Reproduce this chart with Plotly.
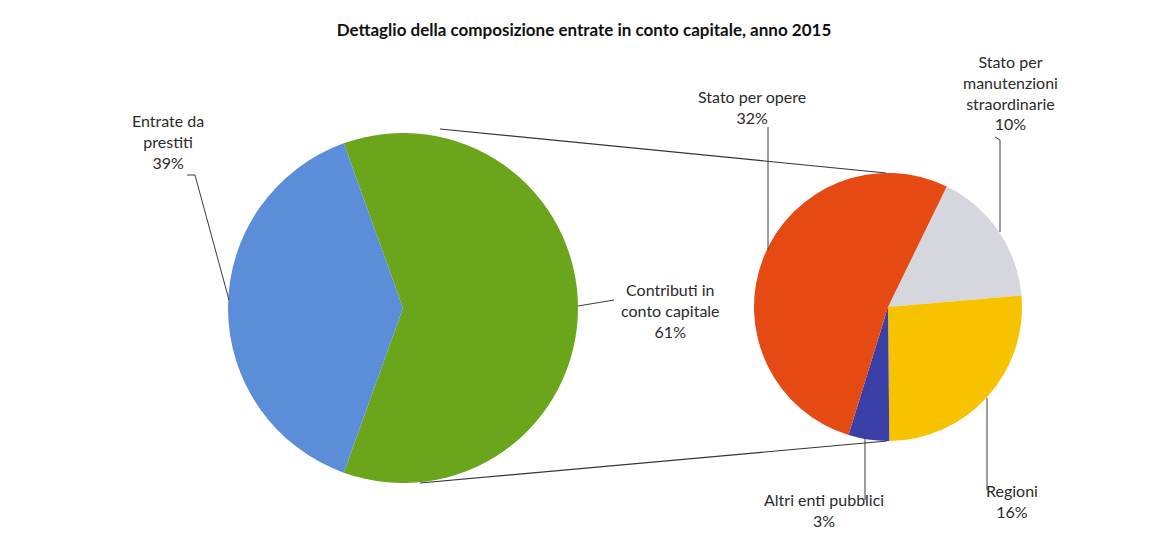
import plotly.graph_objects as go

W, H = 1168, 538

title = "Dettaglio della composizione entrate in conto capitale, anno 2015"

main_labels = ["Contributi in conto capitale", "Entrate da prestiti"]
main_values = [61, 39]
main_colors = ["#6aa51c", "#5b8dd9"]

sub_labels = ["Stato per manutenzioni straordinarie", "Regioni", "Altri enti pubblici", "Stato per opere"]
sub_values = [10, 16, 3, 32]
sub_colors = ["#d6d6de", "#f7c300", "#3b3fa8", "#e54a14"]

# label texts (line-broken as in the reference)
main_text = ["Contributi in<br>conto capitale", "Entrate da<br>prestiti"]
sub_text = ["Stato per<br>manutenzioni<br>straordinarie", "Regioni", "Altri enti pubblici", "Stato per opere"]


def px(x, y):
    return x / W, 1 - y / H


# geometry (pixels)
L_CX, L_CY, L_R = 403, 308, 175
R_CX, R_CY, R_R = 888, 307, 134

fig = go.Figure()

lx0, ly1 = px(L_CX - L_R, L_CY - L_R)
lx1, ly0 = px(L_CX + L_R, L_CY + L_R)
fig.add_trace(go.Pie(
    labels=main_labels, values=main_values, sort=False, direction="clockwise",
    rotation=-19.8,
    marker=dict(colors=main_colors, line=dict(width=0)),
    textinfo="none", hoverinfo="label+percent", showlegend=False,
    domain=dict(x=[lx0, lx1], y=[ly0, ly1]),
))

rx0, ry1 = px(R_CX - R_R, R_CY - R_R)
rx1, ry0 = px(R_CX + R_R, R_CY + R_R)
fig.add_trace(go.Pie(
    labels=sub_labels, values=sub_values, sort=False, direction="clockwise",
    rotation=26,
    marker=dict(colors=sub_colors, line=dict(width=0)),
    textinfo="none", hoverinfo="label+value", showlegend=False,
    domain=dict(x=[rx0, rx1], y=[ry0, ry1]),
))


def seg(points, color="#3a3a4a", width=1):
    path = ""
    for i, (x, y) in enumerate(points):
        X, Y = px(x, y)
        path += ("M" if i == 0 else "L") + f"{X},{Y} "
    fig.add_shape(type="path", path=path, xref="paper", yref="paper",
                  line=dict(color=color, width=width))


# connector lines between the pies
seg([(440, 129), (886, 173)], color="#333344", width=1.2)
seg([(420, 483), (887, 441)], color="#333344", width=1.2)

# leader lines
seg([(187, 175), (195, 175), (229, 300)])
seg([(578, 306), (614, 300)])
seg([(768, 127), (768, 250)])
seg([(995, 137), (1000, 140), (1000, 232)])
seg([(987, 398), (987, 490)])
seg([(865, 437), (865, 500)])

font = dict(family="Lato, 'Open Sans', sans-serif", size=16, color="#2b2b2b")


def label(x, y, txt):
    X, Y = px(x, y)
    fig.add_annotation(x=X, y=Y, xref="paper", yref="paper", text=txt,
                       showarrow=False, font=font, xanchor="center", yanchor="top",
                       align="center")


label(168, 109, f"{main_text[1]}<br>{main_values[1]}%")
label(670, 278, f"{main_text[0]}<br>{main_values[0]}%")
label(752, 85, f"{sub_text[3]}<br>{sub_values[3]}%")
label(1010, 50, f"{sub_text[0]}<br>{sub_values[0]}%")
label(1012, 479, f"{sub_text[1]}<br>{sub_values[1]}%")
label(824, 488, f"{sub_text[2]}<br>{sub_values[2]}%")

fig.update_layout(
    width=W, height=H,
    margin=dict(l=0, r=0, t=0, b=0),
    paper_bgcolor="white", plot_bgcolor="white",
    title=dict(text=f"<b>{title}</b>", x=0.5, xanchor="center", y=1 - 30 / H, yanchor="middle",
               font=dict(family="Lato, 'Open Sans', sans-serif", size=17, color="#111")),
)

fig.write_html("out.html", config={"displayModeBar": False},
               post_script="document.body.style.margin='0';")
